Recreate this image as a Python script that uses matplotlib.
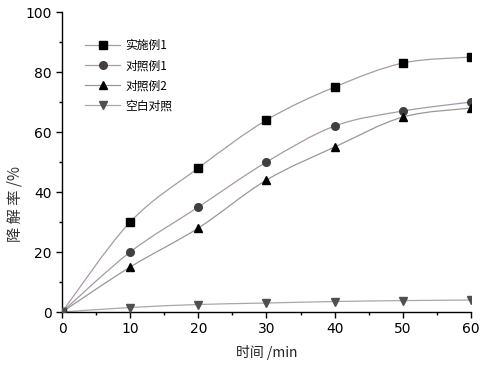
import numpy as np
import matplotlib
matplotlib.use("Agg")
from matplotlib import pyplot as plt
from matplotlib.path import Path
from matplotlib.patches import PathPatch
from matplotlib.lines import Line2D

time_min = [0, 10, 20, 30, 40, 50, 60]
shishi1 = [0, 30, 48, 64, 75, 83, 85]
duizhao1 = [0, 20, 35, 50, 62, 67, 70]
duizhao2 = [0, 15, 28, 44, 55, 65, 68]
kongbai = [0, 1.5, 2.5, 3.0, 3.5, 3.8, 4.0]

SERIES = [
    ("实施例1", shishi1, "s", "#000000", "#a898a8"),
    ("对照例1", duizhao1, "o", "#404040", "#a898a8"),
    ("对照例2", duizhao2, "^", "#000000", "#989898"),
    ("空白对照", kongbai, "v", "#505050", "#a8a8a8"),
]

CJK = ["Noto Sans CJK SC", "DejaVu Sans"]


def smooth_path(xs, ys):
    # Catmull-Rom segments as cubic Bezier, so the line runs through every point
    p = np.column_stack([xs, ys]).astype(float)
    ext = np.vstack([p[0], p, p[-1]])
    verts = [p[0]]
    codes = [Path.MOVETO]
    for i in range(1, len(ext) - 2):
        c1 = ext[i] + (ext[i + 1] - ext[i - 1]) / 6
        c2 = ext[i + 1] - (ext[i + 2] - ext[i]) / 6
        verts += [c1, c2, ext[i + 1]]
        codes += [Path.CURVE4] * 3
    return Path(verts, codes)


fig = plt.figure(figsize=(4.86, 3.66), dpi=100)
ax = fig.add_axes([0.1276, 0.1475, 0.8414, 0.8195])

handles = []
for label, vals, marker, mcolor, lcolor in SERIES:
    ax.add_patch(PathPatch(smooth_path(time_min, vals), facecolor="none",
                           edgecolor=lcolor, linewidth=0.9, zorder=2))
    pts, = ax.plot(time_min, vals, linestyle="none", marker=marker, markersize=5.5,
                   color=mcolor, zorder=3)
    pts.set_clip_path(ax.patch)
    handles.append(Line2D([], [], color=lcolor, linewidth=0.9, marker=marker,
                          markersize=5.5, markerfacecolor=mcolor, markeredgecolor=mcolor))

ax.set_xlim(0, 60)
ax.set_ylim(0, 100)
ax.set_xticks(range(0, 61, 10))
ax.set_xticks(range(5, 60, 10), minor=True)
ax.set_yticks(range(0, 101, 20))
ax.set_yticks(range(10, 100, 20), minor=True)
for side in ("top", "right"):
    ax.spines[side].set_visible(False)
for side in ("left", "bottom"):
    ax.spines[side].set_linewidth(1.0)
ax.tick_params(which="major", direction="out", length=4, width=1, labelsize=10)
ax.tick_params(which="minor", direction="out", length=2.5, width=1)

ax.set_xlabel("时间 /min", fontsize=10, family=CJK, color="#222222", labelpad=6)
ax.set_ylabel("降 解 率 /%", fontsize=11, family=CJK, color="#333333")
ax.yaxis.set_label_coords(-0.095, 0.36)

ax.legend(handles=handles, labels=[s[0] for s in SERIES], loc="upper left",
          bbox_to_anchor=(0.03, 0.945), frameon=False, handlelength=3.0,
          handletextpad=0.4, labelspacing=0.6, prop={"family": CJK, "size": 8.5})

fig.savefig("out.png", dpi=100)
